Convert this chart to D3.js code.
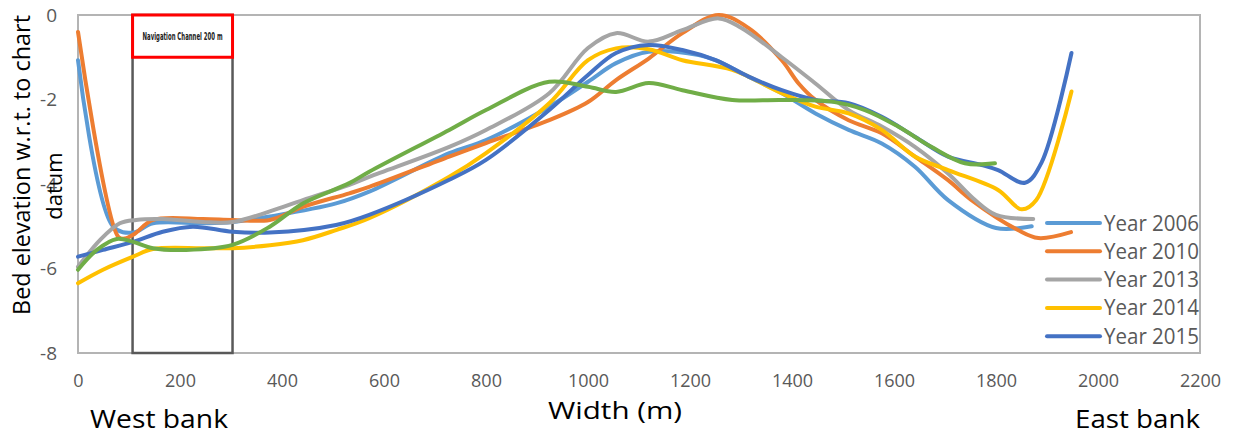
<!DOCTYPE html>
<html>
<head>
<meta charset="utf-8">
<script src="https://cdn.jsdelivr.net/npm/d3@7"></script>
<style>
  body { margin: 0; background: #fff; }
  text { font-family: "Open Sans", "Noto Sans", sans-serif; }
</style>
</head>
<body>
<div id="chart"></div>
<script>
// Chart size and plot area.
const totalWidth = 1235;
const totalHeight = 436;
const margin = {top: 15, right: 35, bottom: 83, left: 78};
const width = totalWidth - margin.left - margin.right;
const height = totalHeight - margin.top - margin.bottom;

// Data: [width (m), bed elevation (m)].
const year2006 = [[0,-1.07],[69,-5.01],[108,-5.15],[147,-4.93],[245,-4.93],[303,-4.9],[376,-4.77],[506,-4.46],[571,-4.18],[728,-3.27],[800,-2.96],[924,-2.17],[1000,-1.58],[1055,-1.14],[1119,-0.87],[1217,-0.95],[1250,-1.07],[1315,-1.46],[1380,-1.85],[1446,-2.33],[1511,-2.72],[1576,-3.04],[1641,-3.59],[1706,-4.38],[1800,-5.04],[1870,-5.0]];
const year2010 = [[0,-0.4],[79,-5.25],[92,-5.29],[112,-5.17],[147,-4.85],[245,-4.83],[303,-4.85],[376,-4.85],[441,-4.54],[532,-4.22],[571,-4.07],[728,-3.35],[800,-3.03],[924,-2.49],[1000,-2.06],[1055,-1.54],[1119,-1.03],[1185,-0.43],[1256,0],[1315,-0.31],[1380,-1.07],[1413,-1.62],[1446,-2.01],[1511,-2.49],[1576,-2.8],[1641,-3.35],[1706,-3.91],[1752,-4.38],[1843,-5.09],[1883,-5.28],[1947,-5.14]];
const year2013 = [[0,-5.96],[43,-5.33],[82,-4.93],[114,-4.85],[166,-4.83],[245,-4.9],[303,-4.9],[376,-4.65],[441,-4.38],[532,-4.02],[571,-3.83],[728,-3.12],[800,-2.72],[924,-1.85],[1000,-0.78],[1055,-0.43],[1119,-0.63],[1185,-0.36],[1256,-0.08],[1300,-0.3],[1380,-1.0],[1446,-1.62],[1511,-2.25],[1576,-2.64],[1641,-3.12],[1706,-3.75],[1759,-4.38],[1800,-4.73],[1873,-4.83]];
const year2014 = [[0,-6.35],[49,-6.03],[108,-5.72],[147,-5.54],[245,-5.52],[303,-5.52],[376,-5.45],[441,-5.33],[506,-5.09],[571,-4.81],[728,-3.83],[800,-3.27],[924,-2.09],[1000,-1.07],[1055,-0.79],[1119,-0.81],[1185,-1.07],[1283,-1.3],[1380,-1.85],[1446,-2.17],[1511,-2.33],[1576,-2.72],[1641,-3.35],[1706,-3.67],[1804,-4.14],[1850,-4.6],[1879,-4.38],[1948,-1.81]];
const year2015 = [[0,-5.72],[49,-5.56],[108,-5.37],[166,-5.13],[225,-5.01],[303,-5.13],[376,-5.15],[506,-4.97],[571,-4.73],[728,-3.9],[800,-3.43],[924,-2.25],[1000,-1.42],[1055,-0.9],[1119,-0.71],[1185,-0.83],[1250,-1.07],[1315,-1.46],[1380,-1.78],[1446,-2.01],[1511,-2.09],[1576,-2.41],[1641,-2.88],[1706,-3.35],[1772,-3.55],[1804,-3.67],[1857,-3.97],[1889,-3.5],[1948,-0.9]];
// Extra survey drawn in green, not listed in the legend.
const yearUnlisted = [[0,-6.03],[37,-5.56],[76,-5.3],[108,-5.37],[147,-5.52],[212,-5.56],[303,-5.44],[376,-5.01],[441,-4.46],[532,-3.98],[571,-3.71],[728,-2.72],[800,-2.25],[924,-1.58],[1000,-1.7],[1055,-1.82],[1119,-1.61],[1185,-1.78],[1283,-2.01],[1380,-2.01],[1478,-2.05],[1543,-2.25],[1608,-2.64],[1673,-3.12],[1739,-3.51],[1798,-3.51]];

const seriesNames = ["Year 2006", "Year 2010", "Year 2013", "Year 2014", "Year 2015", ""];
const seriesData = [year2006, year2010, year2013, year2014, year2015, yearUnlisted];
const seriesColors = ["#5B9BD5", "#ED7D31", "#A5A5A5", "#FFC000", "#4472C4", "#70AD47"];

const xTicks = [0, 200, 400, 600, 800, 1000, 1200, 1400, 1600, 1800, 2000, 2200];
const yTicks = [0, -2, -4, -6, -8];

// Navigation channel (m) and its label box depth (m).
const channel = [107, 303];
const labelBoxDepth = -1.0;

const svg = d3.select("#chart")
  .append("svg")
  .attr("width", totalWidth)
  .attr("height", totalHeight);

const g = svg.append("g")
  .attr("transform", `translate(${margin.left}, ${margin.top})`);

const x = d3.scaleLinear().domain([0, 2200]).range([0, width]);
const y = d3.scaleLinear().domain([-8, 0]).range([height, 0]);

// Plot frame.
g.append("rect")
  .attr("x", 0).attr("y", 0)
  .attr("width", width).attr("height", height)
  .attr("fill", "none")
  .attr("stroke", "#b4b4b4")
  .attr("stroke-width", 2);

// Axes (labels only, frame is drawn above).
const xAxis = g.append("g")
  .attr("transform", `translate(0, ${height})`)
  .call(d3.axisBottom(x).tickValues(xTicks).tickSize(0).tickPadding(21).tickFormat(d3.format("d")));
xAxis.select(".domain").remove();
xAxis.selectAll("text").style("font-size", "18px").attr("fill", "#595959").style("font-family", "'Open Sans', sans-serif");

const yAxis = g.append("g")
  .call(d3.axisLeft(y).tickValues(yTicks).tickSize(0).tickPadding(21).tickFormat(d => d));
yAxis.select(".domain").remove();
yAxis.selectAll("text").style("font-size", "19px").attr("fill", "#595959").style("font-family", "'Open Sans', sans-serif");

// Navigation channel box.
g.append("rect")
  .attr("x", x(channel[0])).attr("y", y(0))
  .attr("width", x(channel[1]) - x(channel[0]))
  .attr("height", y(-8) - y(0))
  .attr("fill", "none")
  .attr("stroke", "#595959")
  .attr("stroke-width", 2.5);

// Curves.
const line = d3.line()
  .x(d => x(d[0]))
  .y(d => y(d[1]))
  .curve(d3.curveCatmullRom.alpha(0.5));

g.selectAll(".series")
  .data(seriesData)
  .join("path")
    .attr("class", "series")
    .attr("d", line)
    .attr("fill", "none")
    .attr("stroke", (d, i) => seriesColors[i])
    .attr("stroke-width", 4)
    .attr("stroke-linecap", "round")
    .attr("stroke-linejoin", "round");

// Red label box.
g.append("rect")
  .attr("x", x(channel[0])).attr("y", y(0))
  .attr("width", x(channel[1]) - x(channel[0]))
  .attr("height", y(labelBoxDepth) - y(0))
  .attr("fill", "#fff")
  .attr("stroke", "#ff0000")
  .attr("stroke-width", 3);

g.append("text")
  .attr("x", x((channel[0] + channel[1]) / 2))
  .attr("y", y(labelBoxDepth / 2) + 4)
  .attr("text-anchor", "middle")
  .style("font-family", "'Liberation Sans Narrow', 'DejaVu Sans Condensed', sans-serif")
  .style("font-size", "10px")
  .style("font-weight", "bold")
  .attr("fill", "#222")
  .attr("textLength", 80)
  .attr("lengthAdjust", "spacingAndGlyphs")
  .text("Navigation Channel 200 m");

// Legend (only named series).
const legend = g.append("g").attr("transform", `translate(${width - 153}, ${208})`);
seriesNames.forEach((name, i) => {
  if (!name) return;
  const row = legend.append("g").attr("transform", `translate(0, ${i * 28.3})`);
  row.append("line")
    .attr("x1", 0).attr("x2", 53)
    .attr("stroke", seriesColors[i])
    .attr("stroke-width", 4)
    .attr("stroke-linecap", "round");
  row.append("text")
    .attr("x", 57).attr("y", 7.5)
    .style("font-size", "21px")
    .attr("fill", "#595959")
    .attr("textLength", 95)
    .attr("lengthAdjust", "spacingAndGlyphs")
    .text(name);
});

// Axis titles.
svg.append("text")
  .attr("transform", `translate(30, 165) rotate(-90)`)
  .attr("text-anchor", "middle")
  .style("font-size", "23px")
  .attr("textLength", 300)
  .attr("lengthAdjust", "spacingAndGlyphs")
  .text("Bed elevation w.r.t. to chart");
svg.append("text")
  .attr("transform", `translate(62, 186) rotate(-90)`)
  .attr("text-anchor", "middle")
  .style("font-size", "22px")
  .text("datum");

svg.append("text")
  .attr("x", 615).attr("y", 419)
  .attr("text-anchor", "middle")
  .style("font-size", "24px")
  .attr("textLength", 134)
  .attr("lengthAdjust", "spacingAndGlyphs")
  .text("Width (m)");

svg.append("text")
  .attr("x", 90).attr("y", 428)
  .style("font-size", "25px")
  .attr("textLength", 138)
  .attr("lengthAdjust", "spacingAndGlyphs")
  .text("West bank");

svg.append("text")
  .attr("x", 1075).attr("y", 428)
  .style("font-size", "25px")
  .attr("textLength", 125)
  .attr("lengthAdjust", "spacingAndGlyphs")
  .text("East bank");
</script>
</body>
</html>
